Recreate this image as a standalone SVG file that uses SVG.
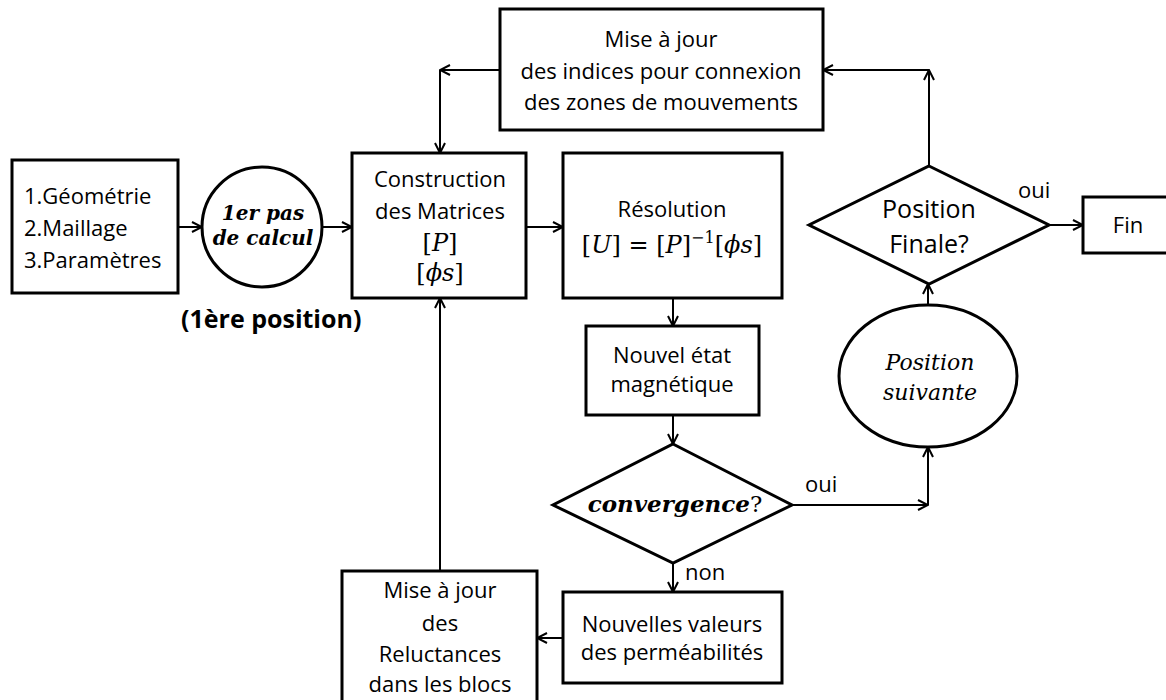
<svg xmlns="http://www.w3.org/2000/svg" width="1166" height="700" viewBox="0 0 1166 700">
<defs>
<marker id="arr" viewBox="0 0 12 12" refX="11" refY="6" markerWidth="12" markerHeight="12" markerUnits="userSpaceOnUse" orient="auto">
<path d="M1,1 L11,6 L1,11" fill="none" stroke="#000" stroke-width="2"/>
</marker>
</defs>
<style>
.box{fill:#fff;stroke:#000;stroke-width:3}
.t{font-family:"Open Sans","Liberation Sans",sans-serif;font-size:22px;fill:#000;text-anchor:middle}
.ts{text-anchor:start}
.m{font-family:"DejaVu Serif","Liberation Serif",serif;fill:#000;text-anchor:middle}
.bi{font-weight:bold;font-style:italic;font-size:20px}
.it{font-style:italic}
.c line,.c path{stroke:#000;stroke-width:2;fill:none;marker-end:url(#arr)}
</style>
<rect width="1166" height="700" fill="#fff"/>

<g id="n-input">
<rect class="box" x="12" y="160" width="166" height="133"/>
<text class="t ts" x="24" y="204">1.Géométrie</text>
<text class="t ts" x="24" y="236">2.Maillage</text>
<text class="t ts" x="24" y="268">3.Paramètres</text>
</g>

<g id="n-first">
<circle class="box" cx="262" cy="227" r="60"/>
<text class="m bi" x="263" y="220">1er pas</text>
<text class="m bi" x="263" y="245">de calcul</text>
<text x="181" y="328" style="font-family:'Open Sans','Liberation Sans',sans-serif;font-size:25px;font-weight:bold;fill:#000">(1ère position)</text>
</g>

<g id="n-construction">
<rect class="box" x="352" y="153" width="174" height="145"/>
<text class="t" x="440" y="187">Construction</text>
<text class="t" x="440" y="219">des Matrices</text>
<text class="m" x="440" y="251" font-size="24">[<tspan class="it">P</tspan>]</text>
<text class="m" x="440" y="281" font-size="24">[<tspan class="it">ϕs</tspan>]</text>
</g>

<g id="n-resolution">
<rect class="box" x="563" y="153" width="219" height="145"/>
<text class="t" x="672" y="217">Résolution</text>
<text class="m" x="672" y="253" font-size="24">[<tspan class="it">U</tspan>] = [<tspan class="it">P</tspan>]<tspan font-size="16" dy="-10">−1</tspan><tspan dy="10">[</tspan><tspan class="it">ϕs</tspan>]</text>
</g>

<g id="n-update-indices">
<rect class="box" x="500" y="9" width="323" height="121"/>
<text class="t" x="661" y="47">Mise à jour</text>
<text class="t" x="661" y="79">des indices pour connexion</text>
<text class="t" x="661" y="110">des zones de mouvements</text>
</g>

<g id="n-final">
<polygon class="box" points="929,166 1049,225 929,284 809,225"/>
<text class="t" x="929" y="218" style="font-size:25px">Position</text>
<text class="t" x="929" y="253" style="font-size:25px">Finale?</text>
</g>

<g id="n-fin">
<rect class="box" x="1083" y="197" width="92" height="56"/>
<text class="t" x="1128" y="233">Fin</text>
</g>

<g id="n-next">
<ellipse class="box" cx="928" cy="376" rx="89" ry="71"/>
<text class="m it" x="930" y="370" font-size="22">Position</text>
<text class="m it" x="930" y="400" font-size="22">suivante</text>
</g>

<g id="n-state">
<rect class="box" x="586" y="326" width="173" height="89"/>
<text class="t" x="672" y="363">Nouvel état</text>
<text class="t" x="672" y="392">magnétique</text>
</g>

<g id="n-convergence">
<polygon class="box" points="673,444 792,505 673,563 553,505"/>
<text class="m" x="675" y="512" font-size="23"><tspan font-weight="bold" font-style="italic">convergence</tspan>?</text>
</g>

<g id="n-perm">
<rect class="box" x="563" y="592" width="219" height="91"/>
<text class="t" x="672" y="632">Nouvelles valeurs</text>
<text class="t" x="672" y="660">des perméabilités</text>
</g>

<g id="n-reluct">
<rect class="box" x="342" y="571" width="195" height="140"/>
<text class="t" x="440" y="598">Mise à jour</text>
<text class="t" x="440" y="631">des</text>
<text class="t" x="440" y="662">Reluctances</text>
<text class="t" x="440" y="692">dans les blocs</text>
</g>

<g id="connectors" class="c">
<path d="M178,227 H202"/>
<path d="M322,227 H352"/>
<path d="M526,227 H563"/>
<path d="M500,70 H440"/>
<path d="M440,70 V153"/>
<path d="M929,166 V70"/>
<path d="M929,70 H823"/>
<path d="M1049,225 H1083"/>
<path d="M928,305 V284"/>
<path d="M673,298 V326"/>
<path d="M673,415 V444"/>
<path d="M792,505 H928"/>
<path d="M928,505 V447"/>
<path d="M673,563 V592"/>
<path d="M563,638 H537"/>
<path d="M440,571 V298"/>
</g>

<g id="labels">
<text class="t ts" x="1018" y="198">oui</text>
<text class="t ts" x="805" y="492">oui</text>
<text class="t ts" x="685" y="580">non</text>
</g>
</svg>
